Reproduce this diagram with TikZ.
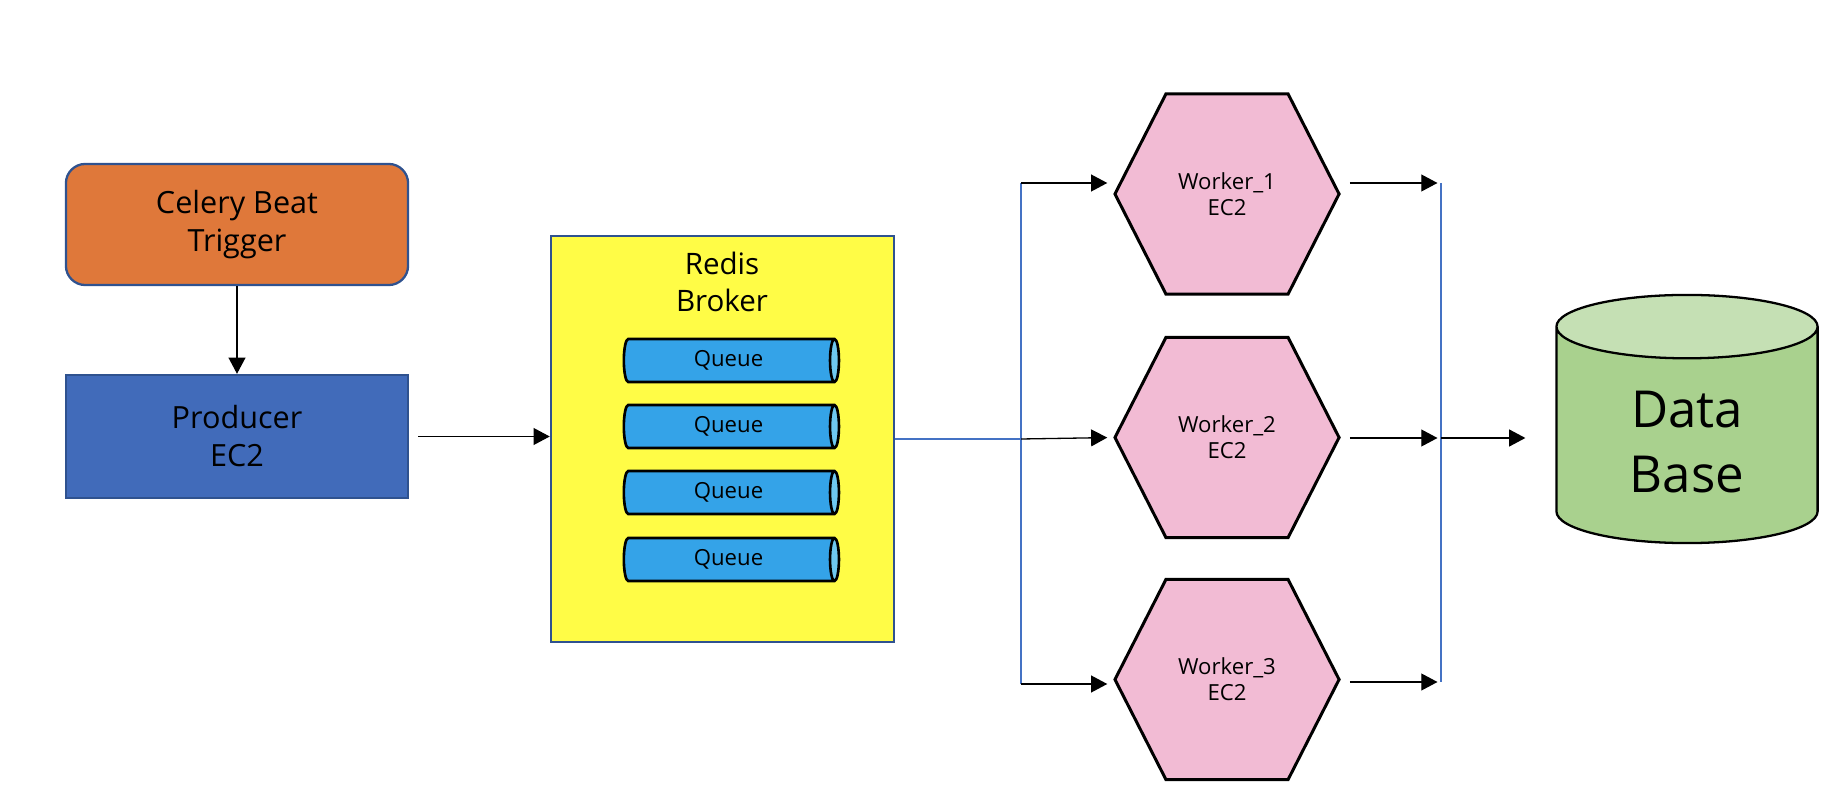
\documentclass[tikz,border=0pt]{standalone}
\usepackage{fontspec}
\setmainfont{Open Sans}
\usepackage{tikz}
\usetikzlibrary{arrows.meta,positioning,shapes.geometric,shapes.symbols,calc}
\definecolor{beatorange}{RGB}{223,120,58}
\definecolor{edgeblue}{RGB}{47,82,143}
\definecolor{prodblue}{RGB}{65,107,186}
\definecolor{redisyellow}{RGB}{255,252,70}
\definecolor{queueblue}{RGB}{52,163,232}
\definecolor{queueend}{RGB}{110,200,240}
\definecolor{workerpink}{RGB}{242,187,212}
\definecolor{dbgreen}{RGB}{169,209,142}
\definecolor{dbtop}{RGB}{197,224,180}
\definecolor{lineblue}{RGB}{68,114,196}
\tikzset{
  beatbox/.style={
    rectangle,
    rounded corners=5.5pt,
    draw=edgeblue,
    line width=0.65pt,
    minimum width=3.42cm,
    minimum height=1.21cm,
    align=center,
    font=\fontsize{8.7}{10.8}\selectfont,
    fill=beatorange
  },
  prodbox/.style={
    rectangle,
    draw=edgeblue,
    line width=0.65pt,
    minimum width=3.42cm,
    minimum height=1.23cm,
    align=center,
    font=\fontsize{8.7}{10.8}\selectfont,
    fill=prodblue
  },
  brokerbox/.style={
    rectangle,
    draw=edgeblue,
    line width=0.65pt,
    minimum width=3.43cm,
    minimum height=4.06cm,
    fill=redisyellow
  },
  queue/.style={
    cylinder,
    draw=black,
    line width=0.75pt,
    aspect=0.45,
    minimum width=0.43cm,
    minimum height=2.15cm,
    inner sep=0pt,
    cylinder uses custom fill,
    cylinder body fill=queueblue,
    cylinder end fill=queueend,
    font=\fontsize{6.3}{7.5}\selectfont
  },
  worker/.style={
    signal,
    signal to=west and east,
    signal pointer angle=126,
    draw=black,
    line width=0.85pt,
    minimum width=2.24cm,
    minimum height=2cm,
    align=center,
    font=\fontsize{6.3}{7.4}\selectfont,
    fill=workerpink
  },
  dbcyl/.style={
    cylinder,
    shape border rotate=90,
    draw=black,
    line width=0.65pt,
    aspect=0.46,
    minimum width=2.61cm,
    minimum height=2.48cm,
    align=center,
    cylinder uses custom fill,
    cylinder body fill=dbgreen,
    cylinder end fill=dbtop,
    font=\fontsize{14.5}{18.5}\selectfont
  },
  flow/.style={-{Triangle[length=4.6pt,width=4.8pt]}, line width=0.37pt, black},
  bus/.style={line width=0.3pt, lineblue}
}
\begin{document}
\begin{tikzpicture}[x=0.01cm,y=-0.01cm]
\useasboundingbox (0,0) rectangle (1840,810);
\node[beatbox] (beat) at (237,224.5) {Celery Beat\\Trigger};
\node[prodbox] (prod) at (237,436.5) {Producer\\EC2};
\node[brokerbox] (redis) at (722.5,439) {};
\node[align=center, font=\fontsize{8.4}{10.3}\selectfont] (redistitle) at (722,282) {Redis\\Broker};
\foreach \y [count=\i] in {360.5,426.5,492.5,559.5}
  \node[queue] (q\i) at (728.5,\y) {Queue};
\node[worker] (w1) at (1227,194) {Worker\_1\\EC2};
\node[worker] (w2) at (1227,437.5) {Worker\_2\\EC2};
\node[worker] (w3) at (1227,679.5) {Worker\_3\\EC2};
\node[dbcyl, anchor=shape center] (db) at (1687,419) {Data\\Base};
% fan out / fan in
\coordinate (split) at (1021,439);
\coordinate (lt) at (1021,183);
\coordinate (lb) at (1021,684);
\coordinate (rt) at (1441,183);
\coordinate (rm) at (1441,438);
\coordinate (rb) at (1441,682);
\draw[flow] (beat) -- (prod);
\draw[flow, shorten <=2.5pt] (prod.east) -- (prod.east -| redis.west);
\draw[bus] (redis.east) -- (split);
\draw[bus] (lt) -- (lb);
\draw[flow, shorten >=1.7pt] (lt) -- (lt -| w1.west);
\draw[flow, shorten >=1.7pt] (split) -- (w2.west);
\draw[flow, shorten >=1.7pt] (lb) -- (lb -| w3.west);
\draw[bus] (rt) -- (rb);
\draw[flow, shorten <=2.6pt, shorten >=1pt] (w1.east |- rt) -- (rt);
\draw[flow, shorten <=2.6pt, shorten >=1pt] (w2.east |- rm) -- (rm);
\draw[flow, shorten <=2.6pt, shorten >=1pt] (w3.east |- rb) -- (rb);
\draw[flow, shorten >=8.5pt] (rm) -- (rm -| db.west);
\end{tikzpicture}
\end{document}
